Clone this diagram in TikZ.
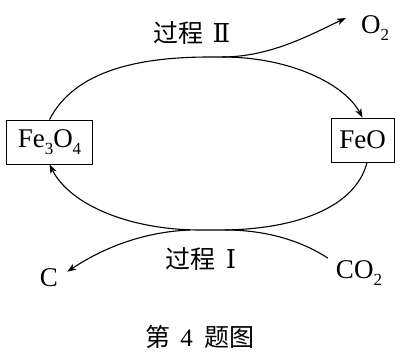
\documentclass[tikz,border=0pt]{standalone}
\usepackage{fontspec}
\setmainfont{Liberation Serif}
\newfontfamily\cjk{Noto Sans CJK SC}
\newfontfamily\romnum{DejaVu Serif}
\usetikzlibrary{arrows.meta}
\newcommand{\sbs}[1]{\raisebox{-0.28em}{\fontsize{17}{17}\selectfont #1}}
\begin{document}
\begin{tikzpicture}[x=1pt,y=1pt,
  chem/.style={font=\fontsize{27}{32}\selectfont, inner sep=0pt},
  boxnode/.style={draw, line width=0.9pt, font=\fontsize{27}{32}\selectfont, inner sep=0pt, minimum height=44pt},
  lbl/.style={font=\cjk\fontsize{25}{30}\selectfont, inner sep=0pt},
  conn/.style={line width=1.1pt},
  arr/.style={conn, -{Stealth[length=9pt,width=6.5pt,inset=2.5pt]}}
]
\useasboundingbox (0,0) rectangle (410,356);
\node[boxnode, minimum width=86pt] (fe3o4) at (49.5,214) {Fe\sbs{3}O\sbs{4}};
\node[boxnode, minimum width=63pt] (feo) at (362.5,216) {FeO};
\node[chem] (o2) at (375,328) {O\sbs{2}};
\node[chem] (c) at (49,78) {C};
\node[chem] (co2) at (359,83) {CO\sbs{2}};
\node[lbl] (p2) at (192,323) {过程\hspace{9pt}{\romnum\fontsize{26}{30}\selectfont Ⅱ}};
\node[lbl] (p1) at (201,97) {过程\hspace{10pt}{\romnum\fontsize{26}{30}\selectfont Ⅰ}};
\node[lbl] (cap) at (200,19) {第\hspace{10pt}{\rmfamily 4}\hspace{12pt}题图};
\coordinate (top) at (210,299);
\coordinate (topb) at (222,299);
\coordinate (bot) at (200,126);
\coordinate (botb) at (220,126);
% upper arc
\draw[arr] (fe3o4.north) .. controls (75,286) and (140,299) .. (top)
  -- (topb) .. controls (292,299) and (345,271) .. (feo.north);
\draw[arr] (topb) .. controls (270,299) and (310,321) .. ([shift={(-15pt,10pt)}]o2.west);
% lower arc
\draw[arr] ([xshift=4.5pt]feo.south) .. controls (355,146) and (290,126) .. (botb)
  -- (bot) .. controls (130,126) and (70,151) .. (fe3o4.south);
\draw[arr] ([xshift=-10pt]bot) .. controls (140,124) and (100,106) .. ([shift={(9pt,-3pt)}]c.north east);
\draw[conn] ([shift={(-8pt,2pt)}]co2.north west) .. controls (300,116) and (265,126) .. ([xshift=5pt]botb);
\end{tikzpicture}
\end{document}
